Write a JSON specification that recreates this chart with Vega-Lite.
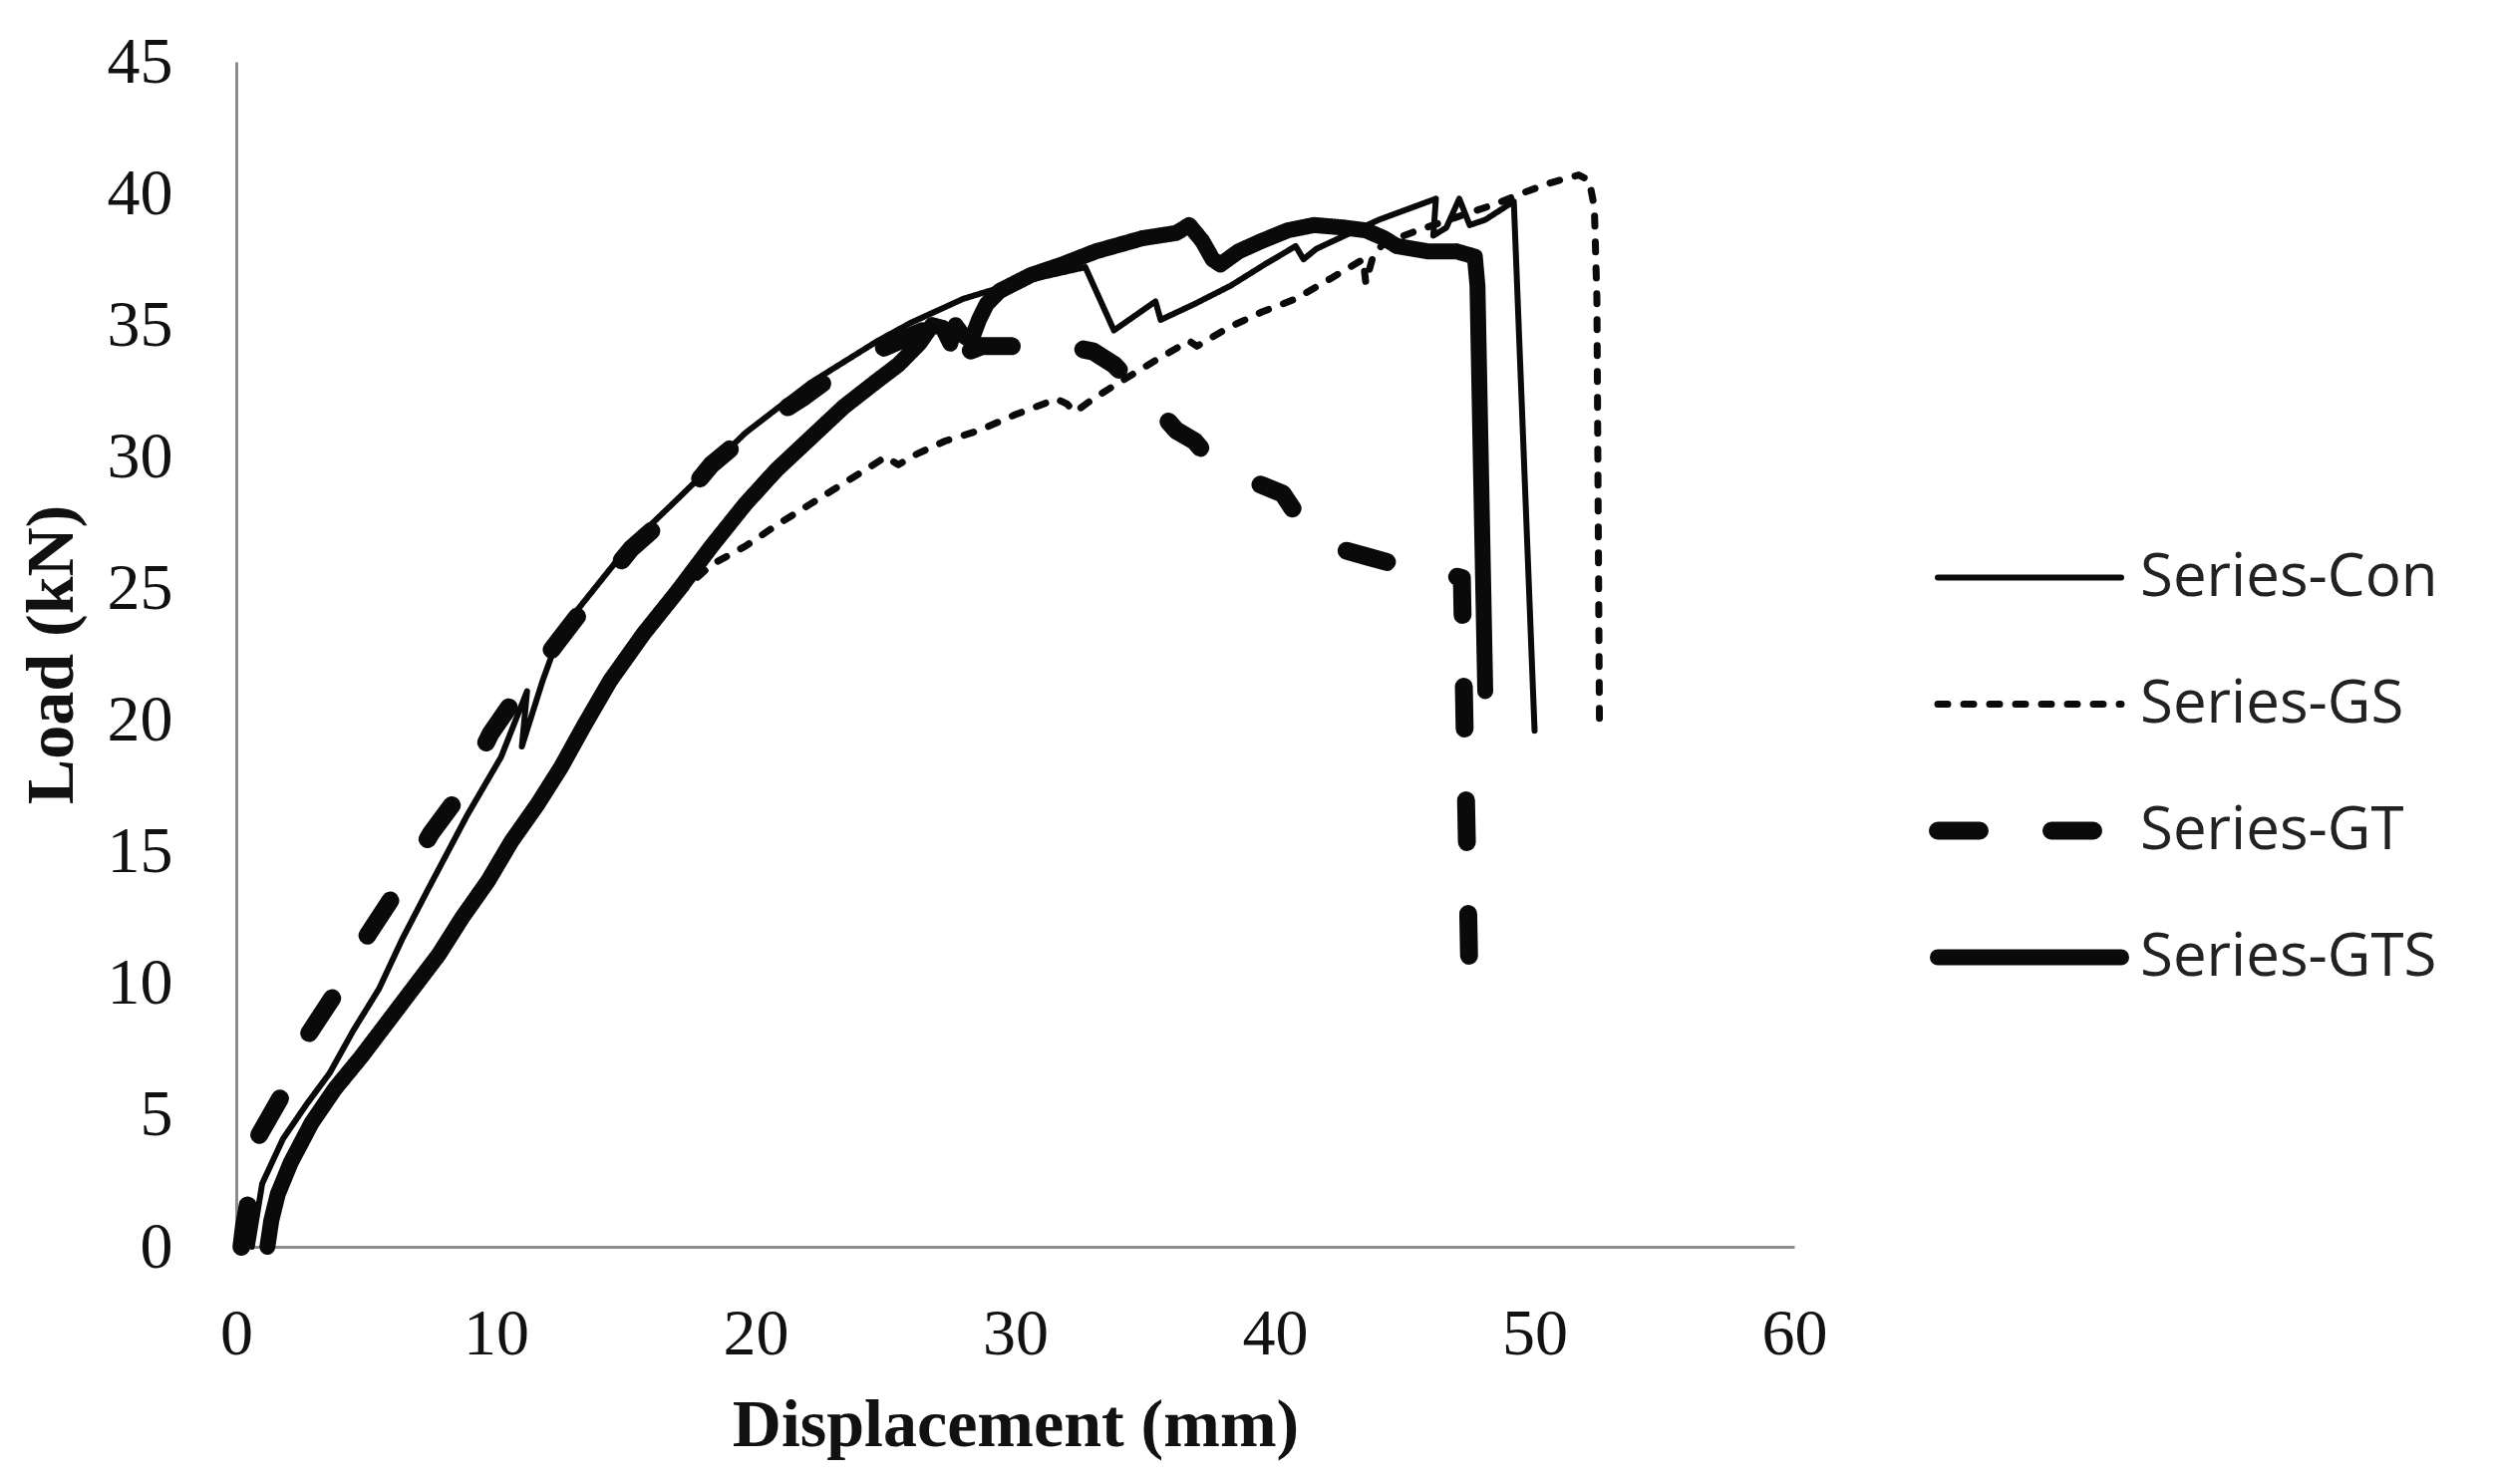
{
  "$schema": "https://vega.github.io/schema/vega-lite/v6.json",
  "width": 1563,
  "height": 1189,
  "autosize": {"type": "none"},
  "padding": {"left": 237, "top": 62, "right": 706, "bottom": 238},
  "background": "white",
  "config": {"view": {"stroke": null}},
  "data": {"values": [
    {"s":"Series-Con","i":0,"x":0.6,"y":0},
    {"s":"Series-Con","i":1,"x":0.8,"y":1.2},
    {"s":"Series-Con","i":2,"x":1.0,"y":2.4},
    {"s":"Series-Con","i":3,"x":1.8,"y":4.1},
    {"s":"Series-Con","i":4,"x":2.7,"y":5.4},
    {"s":"Series-Con","i":5,"x":3.6,"y":6.6},
    {"s":"Series-Con","i":6,"x":4.5,"y":8.2},
    {"s":"Series-Con","i":7,"x":5.5,"y":9.8},
    {"s":"Series-Con","i":8,"x":6.4,"y":11.7},
    {"s":"Series-Con","i":9,"x":7.4,"y":13.6},
    {"s":"Series-Con","i":10,"x":8.9,"y":16.4},
    {"s":"Series-Con","i":11,"x":10.2,"y":18.6},
    {"s":"Series-Con","i":12,"x":11.2,"y":21.1},
    {"s":"Series-Con","i":13,"x":11.0,"y":19.0},
    {"s":"Series-Con","i":14,"x":11.8,"y":21.5},
    {"s":"Series-Con","i":15,"x":12.5,"y":23.4},
    {"s":"Series-Con","i":16,"x":13.8,"y":25.0},
    {"s":"Series-Con","i":17,"x":15.1,"y":26.6},
    {"s":"Series-Con","i":18,"x":17.0,"y":28.4},
    {"s":"Series-Con","i":19,"x":19.6,"y":30.9},
    {"s":"Series-Con","i":20,"x":22.1,"y":32.8},
    {"s":"Series-Con","i":21,"x":24.7,"y":34.4},
    {"s":"Series-Con","i":22,"x":26.0,"y":35.1},
    {"s":"Series-Con","i":23,"x":28.0,"y":36.0},
    {"s":"Series-Con","i":24,"x":30.0,"y":36.6},
    {"s":"Series-Con","i":25,"x":32.7,"y":37.2},
    {"s":"Series-Con","i":26,"x":33.8,"y":34.8},
    {"s":"Series-Con","i":27,"x":35.4,"y":35.9},
    {"s":"Series-Con","i":28,"x":35.6,"y":35.2},
    {"s":"Series-Con","i":29,"x":36.9,"y":35.8},
    {"s":"Series-Con","i":30,"x":38.3,"y":36.5},
    {"s":"Series-Con","i":31,"x":39.6,"y":37.3},
    {"s":"Series-Con","i":32,"x":40.8,"y":38.0},
    {"s":"Series-Con","i":33,"x":41.1,"y":37.5},
    {"s":"Series-Con","i":34,"x":41.6,"y":37.9},
    {"s":"Series-Con","i":35,"x":44.0,"y":39.0},
    {"s":"Series-Con","i":36,"x":46.2,"y":39.8},
    {"s":"Series-Con","i":37,"x":46.1,"y":38.4},
    {"s":"Series-Con","i":38,"x":46.6,"y":38.7},
    {"s":"Series-Con","i":39,"x":47.1,"y":39.8},
    {"s":"Series-Con","i":40,"x":47.5,"y":38.8},
    {"s":"Series-Con","i":41,"x":48.1,"y":39.0},
    {"s":"Series-Con","i":42,"x":49.2,"y":39.7},
    {"s":"Series-Con","i":43,"x":50.0,"y":19.6},

    {"s":"Series-GS","i":0,"x":1.1,"y":0},
    {"s":"Series-GS","i":1,"x":1.3,"y":1.0},
    {"s":"Series-GS","i":2,"x":1.6,"y":2.1},
    {"s":"Series-GS","i":3,"x":2.1,"y":3.3},
    {"s":"Series-GS","i":4,"x":2.9,"y":4.6},
    {"s":"Series-GS","i":5,"x":3.8,"y":5.9},
    {"s":"Series-GS","i":6,"x":4.8,"y":7.1},
    {"s":"Series-GS","i":7,"x":5.8,"y":8.4},
    {"s":"Series-GS","i":8,"x":6.8,"y":9.7},
    {"s":"Series-GS","i":9,"x":7.8,"y":11.0},
    {"s":"Series-GS","i":10,"x":8.7,"y":12.3},
    {"s":"Series-GS","i":11,"x":9.7,"y":13.7},
    {"s":"Series-GS","i":12,"x":10.6,"y":15.2},
    {"s":"Series-GS","i":13,"x":11.6,"y":16.7},
    {"s":"Series-GS","i":14,"x":12.5,"y":18.1},
    {"s":"Series-GS","i":15,"x":13.4,"y":19.7},
    {"s":"Series-GS","i":16,"x":14.4,"y":21.3},
    {"s":"Series-GS","i":17,"x":15.5,"y":22.9},
    {"s":"Series-GS","i":18,"x":16.5,"y":24.2},
    {"s":"Series-GS","i":19,"x":17.4,"y":25.1},
    {"s":"Series-GS","i":20,"x":18.3,"y":25.9},
    {"s":"Series-GS","i":21,"x":19.6,"y":26.6},
    {"s":"Series-GS","i":22,"x":20.8,"y":27.4},
    {"s":"Series-GS","i":23,"x":22.1,"y":28.2},
    {"s":"Series-GS","i":24,"x":23.4,"y":29.0},
    {"s":"Series-GS","i":25,"x":24.7,"y":29.8},
    {"s":"Series-GS","i":26,"x":25.0,"y":30.0},
    {"s":"Series-GS","i":27,"x":25.5,"y":29.7},
    {"s":"Series-GS","i":28,"x":26.2,"y":30.1},
    {"s":"Series-GS","i":29,"x":27.3,"y":30.6},
    {"s":"Series-GS","i":30,"x":28.6,"y":31.0},
    {"s":"Series-GS","i":31,"x":30.0,"y":31.6},
    {"s":"Series-GS","i":32,"x":31.6,"y":32.2},
    {"s":"Series-GS","i":33,"x":32.0,"y":32.0},
    {"s":"Series-GS","i":34,"x":32.3,"y":31.7},
    {"s":"Series-GS","i":35,"x":33.0,"y":32.2},
    {"s":"Series-GS","i":36,"x":33.8,"y":32.7},
    {"s":"Series-GS","i":37,"x":35.3,"y":33.6},
    {"s":"Series-GS","i":38,"x":36.7,"y":34.4},
    {"s":"Series-GS","i":39,"x":37.0,"y":34.2},
    {"s":"Series-GS","i":40,"x":38.2,"y":34.9},
    {"s":"Series-GS","i":41,"x":39.5,"y":35.5},
    {"s":"Series-GS","i":42,"x":40.8,"y":36.0},
    {"s":"Series-GS","i":43,"x":42.2,"y":36.8},
    {"s":"Series-GS","i":44,"x":43.4,"y":37.5},
    {"s":"Series-GS","i":45,"x":43.5,"y":36.6},
    {"s":"Series-GS","i":46,"x":43.8,"y":37.7},
    {"s":"Series-GS","i":47,"x":44.2,"y":38.1},
    {"s":"Series-GS","i":48,"x":45.5,"y":38.6},
    {"s":"Series-GS","i":49,"x":47.0,"y":39.1},
    {"s":"Series-GS","i":50,"x":48.5,"y":39.6},
    {"s":"Series-GS","i":51,"x":49.5,"y":40.0},
    {"s":"Series-GS","i":52,"x":50.6,"y":40.4},
    {"s":"Series-GS","i":53,"x":51.7,"y":40.7},
    {"s":"Series-GS","i":54,"x":52.1,"y":40.5},
    {"s":"Series-GS","i":55,"x":52.3,"y":39.5},
    {"s":"Series-GS","i":56,"x":52.4,"y":36.0},
    {"s":"Series-GS","i":57,"x":52.5,"y":19.6},

    {"s":"Series-GT","i":0,"x":0.2,"y":0},
    {"s":"Series-GT","i":1,"x":0.3,"y":0.8},
    {"s":"Series-GT","i":2,"x":0.5,"y":1.9},
    {"s":"Series-GT","i":3,"x":0.8,"y":4.1},
    {"s":"Series-GT","i":4,"x":1.9,"y":6.0},
    {"s":"Series-GT","i":5,"x":2.8,"y":8.1},
    {"s":"Series-GT","i":6,"x":4.0,"y":9.9},
    {"s":"Series-GT","i":7,"x":5.1,"y":11.9},
    {"s":"Series-GT","i":8,"x":6.3,"y":13.7},
    {"s":"Series-GT","i":9,"x":7.5,"y":15.7},
    {"s":"Series-GT","i":10,"x":8.7,"y":17.3},
    {"s":"Series-GT","i":11,"x":9.8,"y":19.5},
    {"s":"Series-GT","i":12,"x":11.0,"y":21.2},
    {"s":"Series-GT","i":13,"x":12.4,"y":23.0},
    {"s":"Series-GT","i":14,"x":13.8,"y":24.8},
    {"s":"Series-GT","i":15,"x":15.2,"y":26.5},
    {"s":"Series-GT","i":16,"x":16.8,"y":27.9},
    {"s":"Series-GT","i":17,"x":18.3,"y":29.7},
    {"s":"Series-GT","i":18,"x":20.0,"y":31.1},
    {"s":"Series-GT","i":19,"x":21.9,"y":32.3},
    {"s":"Series-GT","i":20,"x":23.7,"y":33.6},
    {"s":"Series-GT","i":21,"x":25.3,"y":34.3},
    {"s":"Series-GT","i":22,"x":26.5,"y":34.8},
    {"s":"Series-GT","i":23,"x":27.9,"y":35.1},
    {"s":"Series-GT","i":24,"x":28.2,"y":34.0},
    {"s":"Series-GT","i":25,"x":28.7,"y":34.2},
    {"s":"Series-GT","i":26,"x":30.5,"y":34.2},
    {"s":"Series-GT","i":27,"x":32.0,"y":34.2},
    {"s":"Series-GT","i":28,"x":33.0,"y":34.0},
    {"s":"Series-GT","i":29,"x":33.8,"y":33.5},
    {"s":"Series-GT","i":30,"x":34.6,"y":32.7},
    {"s":"Series-GT","i":31,"x":35.4,"y":31.9},
    {"s":"Series-GT","i":32,"x":36.2,"y":31.0},
    {"s":"Series-GT","i":33,"x":36.9,"y":30.6},
    {"s":"Series-GT","i":34,"x":37.6,"y":29.8},
    {"s":"Series-GT","i":35,"x":38.4,"y":29.5},
    {"s":"Series-GT","i":36,"x":39.3,"y":29.0},
    {"s":"Series-GT","i":37,"x":40.3,"y":28.6},
    {"s":"Series-GT","i":38,"x":40.9,"y":27.7},
    {"s":"Series-GT","i":39,"x":41.5,"y":26.9},
    {"s":"Series-GT","i":40,"x":42.5,"y":26.5},
    {"s":"Series-GT","i":41,"x":43.6,"y":26.2},
    {"s":"Series-GT","i":42,"x":44.7,"y":25.9},
    {"s":"Series-GT","i":43,"x":45.7,"y":25.7},
    {"s":"Series-GT","i":44,"x":46.8,"y":25.5},
    {"s":"Series-GT","i":45,"x":47.2,"y":25.4},
    {"s":"Series-GT","i":46,"x":47.3,"y":20.0},
    {"s":"Series-GT","i":47,"x":47.4,"y":15.0},
    {"s":"Series-GT","i":48,"x":47.5,"y":9.8},

    {"s":"Series-GTS","i":0,"x":1.2,"y":0},
    {"s":"Series-GTS","i":1,"x":1.35,"y":1.0},
    {"s":"Series-GTS","i":2,"x":1.6,"y":2.0},
    {"s":"Series-GTS","i":3,"x":2.1,"y":3.2},
    {"s":"Series-GTS","i":4,"x":2.9,"y":4.7},
    {"s":"Series-GTS","i":5,"x":3.8,"y":6.0},
    {"s":"Series-GTS","i":6,"x":4.8,"y":7.2},
    {"s":"Series-GTS","i":7,"x":5.8,"y":8.5},
    {"s":"Series-GTS","i":8,"x":6.8,"y":9.8},
    {"s":"Series-GTS","i":9,"x":7.8,"y":11.1},
    {"s":"Series-GTS","i":10,"x":8.7,"y":12.5},
    {"s":"Series-GTS","i":11,"x":9.7,"y":13.9},
    {"s":"Series-GTS","i":12,"x":10.6,"y":15.4},
    {"s":"Series-GTS","i":13,"x":11.6,"y":16.8},
    {"s":"Series-GTS","i":14,"x":12.5,"y":18.2},
    {"s":"Series-GTS","i":15,"x":13.4,"y":19.8},
    {"s":"Series-GTS","i":16,"x":14.4,"y":21.5},
    {"s":"Series-GTS","i":17,"x":15.7,"y":23.3},
    {"s":"Series-GTS","i":18,"x":17.0,"y":24.9},
    {"s":"Series-GTS","i":19,"x":18.3,"y":26.6},
    {"s":"Series-GTS","i":20,"x":19.6,"y":28.2},
    {"s":"Series-GTS","i":21,"x":20.8,"y":29.5},
    {"s":"Series-GTS","i":22,"x":22.1,"y":30.7},
    {"s":"Series-GTS","i":23,"x":23.4,"y":31.9},
    {"s":"Series-GTS","i":24,"x":24.7,"y":32.9},
    {"s":"Series-GTS","i":25,"x":25.5,"y":33.5},
    {"s":"Series-GTS","i":26,"x":26.3,"y":34.3},
    {"s":"Series-GTS","i":27,"x":26.8,"y":35.0},
    {"s":"Series-GTS","i":28,"x":27.2,"y":34.9},
    {"s":"Series-GTS","i":29,"x":27.5,"y":34.3},
    {"s":"Series-GTS","i":30,"x":27.7,"y":35.0},
    {"s":"Series-GTS","i":31,"x":28.0,"y":34.6},
    {"s":"Series-GTS","i":32,"x":28.3,"y":34.4},
    {"s":"Series-GTS","i":33,"x":28.6,"y":35.2},
    {"s":"Series-GTS","i":34,"x":28.9,"y":35.8},
    {"s":"Series-GTS","i":35,"x":29.4,"y":36.3},
    {"s":"Series-GTS","i":36,"x":30.6,"y":36.9},
    {"s":"Series-GTS","i":37,"x":31.8,"y":37.3},
    {"s":"Series-GTS","i":38,"x":33.1,"y":37.8},
    {"s":"Series-GTS","i":39,"x":34.9,"y":38.3},
    {"s":"Series-GTS","i":40,"x":36.2,"y":38.5},
    {"s":"Series-GTS","i":41,"x":36.7,"y":38.8},
    {"s":"Series-GTS","i":42,"x":37.2,"y":38.2},
    {"s":"Series-GTS","i":43,"x":37.6,"y":37.5},
    {"s":"Series-GTS","i":44,"x":37.9,"y":37.3},
    {"s":"Series-GTS","i":45,"x":38.6,"y":37.8},
    {"s":"Series-GTS","i":46,"x":39.5,"y":38.2},
    {"s":"Series-GTS","i":47,"x":40.5,"y":38.6},
    {"s":"Series-GTS","i":48,"x":41.5,"y":38.8},
    {"s":"Series-GTS","i":49,"x":42.7,"y":38.7},
    {"s":"Series-GTS","i":50,"x":43.5,"y":38.6},
    {"s":"Series-GTS","i":51,"x":44.2,"y":38.3},
    {"s":"Series-GTS","i":52,"x":44.7,"y":38.0},
    {"s":"Series-GTS","i":53,"x":45.9,"y":37.8},
    {"s":"Series-GTS","i":54,"x":47.0,"y":37.8},
    {"s":"Series-GTS","i":55,"x":47.7,"y":37.6},
    {"s":"Series-GTS","i":56,"x":47.8,"y":36.5},
    {"s":"Series-GTS","i":57,"x":48.1,"y":21.1}
  ]},
  "mark": {"type": "line", "color": "#0a0a0a", "strokeCap": "round", "strokeJoin": "round"},
  "encoding": {
    "x": {
      "field": "x", "type": "quantitative",
      "scale": {"domain": [0, 60], "nice": false, "zero": true},
      "axis": {
        "title": "Displacement (mm)",
        "values": [0, 10, 20, 30, 40, 50, 60],
        "grid": false, "ticks": false,
        "domainColor": "#8c8c8c", "domainWidth": 3,
        "labelFont": "Liberation Serif", "labelFontSize": 66, "labelColor": "#111",
        "labelPadding": 55, "labelFlush": false, "labelOverlap": false,
        "titleFont": "Liberation Serif", "titleFontSize": 68, "titleFontWeight": "bold",
        "titleColor": "#111", "titlePadding": 25
      }
    },
    "y": {
      "field": "y", "type": "quantitative",
      "scale": {"domain": [0, 45], "nice": false},
      "axis": {
        "title": "Load (kN)",
        "values": [0, 5, 10, 15, 20, 25, 30, 35, 40, 45],
        "grid": false, "ticks": false,
        "domainColor": "#8c8c8c", "domainWidth": 3,
        "labelFont": "Liberation Serif", "labelFontSize": 66, "labelColor": "#111",
        "labelPadding": 64, "labelFlush": false, "labelOverlap": false,
        "titleFont": "Liberation Serif", "titleFontSize": 68, "titleFontWeight": "bold",
        "titleColor": "#111", "titlePadding": 21
      }
    },
    "order": {"field": "i", "type": "quantitative"},
    "strokeDash": {
      "field": "s", "type": "ordinal",
      "scale": {
        "domain": ["Series-Con", "Series-GS", "Series-GT", "Series-GTS"],
        "range": [[1, 0], [10, 16], [42, 72], [1, 0]]
      },
      "legend": {
        "title": null,
        "orient": "none",
        "legendX": 1698,
        "legendY": 454,
        "padding": 0,
        "symbolType": "stroke",
        "symbolSize": 33856,
        "symbolStrokeColor": "#0a0a0a",
        "clipHeight": 127,
        "rowPadding": 0,
        "labelOffset": 10,
        "labelFont": "Open Sans",
        "labelFontSize": 60,
        "labelColor": "#222",
        "labelLimit": 600,
        "encode": {"symbols": {"update": {"strokeCap": {"value": "round"}}}}
      }
    },
    "strokeWidth": {
      "field": "s", "type": "ordinal",
      "scale": {
        "type": "ordinal",
        "domain": ["Series-Con", "Series-GS", "Series-GT", "Series-GTS"],
        "range": [6, 7, 18, 16]
      }
    }
  }
}
